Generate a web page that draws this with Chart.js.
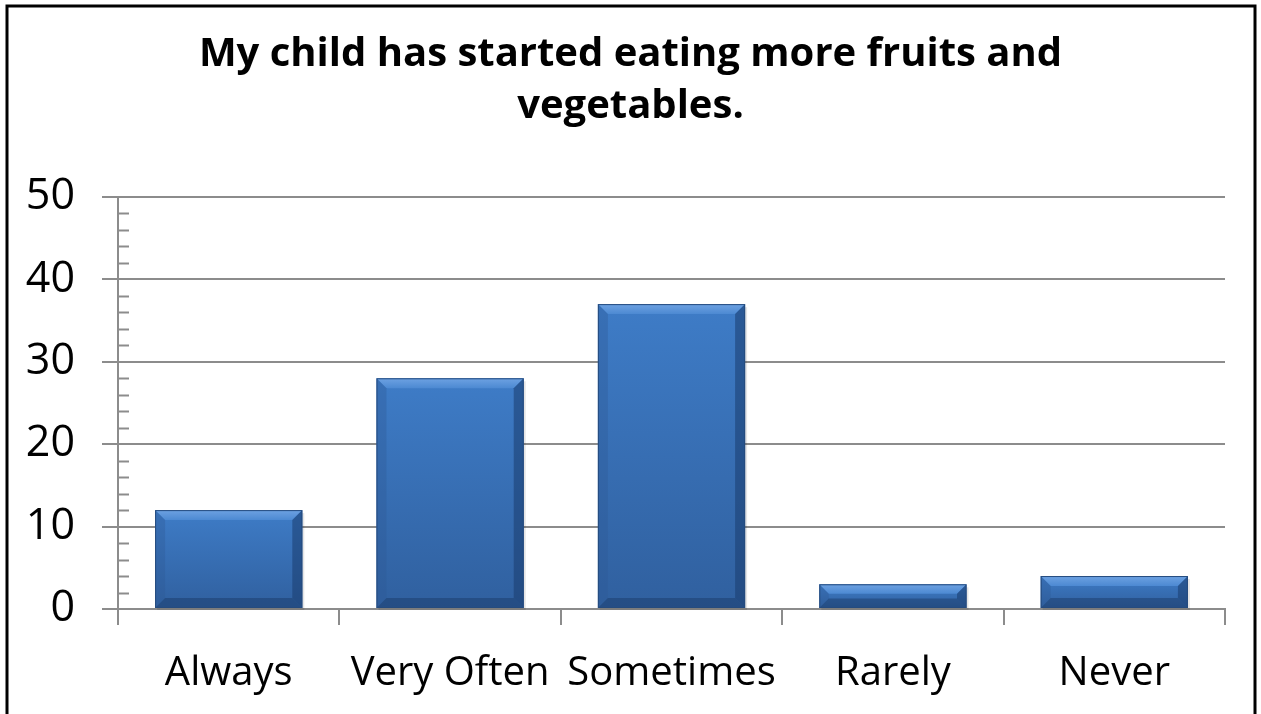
<!DOCTYPE html>
<html>
<head>
<meta charset="utf-8">
<script src="https://cdn.jsdelivr.net/npm/chart.js@4.4.0/dist/chart.umd.min.js"></script>
<style>
  html, body { margin: 0; padding: 0; background: #fff; }
  #wrap { width: 1261px; height: 714px; }
</style>
</head>
<body>
<div id="wrap"><canvas id="grafico" width="1261" height="714"></canvas></div>
<script>
// Datos del gráfico
const titulo = ['My child has started eating more fruits and', 'vegetables.'];
const categorias = ['Always', 'Very Often', 'Sometimes', 'Rarely', 'Never'];
const valores = [12, 28, 37, 3, 4];
const ejeY = { min: 0, max: 50, paso: 10, menor: 2 };

const FUENTE = '"Open Sans", sans-serif';
const GRIS = '#8c8c8c';

// Marco negro alrededor
const marco = {
  id: 'marco',
  beforeDraw(chart) {
    const c = chart.ctx;
    c.save();
    c.fillStyle = '#fff';
    c.fillRect(0, 0, chart.width, chart.height);
    c.strokeStyle = '#000';
    c.lineWidth = 3;
    c.strokeRect(7, 6, chart.width - 13, chart.height + 10);
    c.restore();
  }
};

// Título en dos líneas
const tituloPlugin = {
  id: 'tituloPlugin',
  afterDraw(chart) {
    const c = chart.ctx;
    c.save();
    c.font = 'bold 40px ' + FUENTE;
    c.fillStyle = '#000';
    c.textAlign = 'center';
    c.textBaseline = 'middle';
    titulo.forEach((linea, i) => c.fillText(linea, chart.width / 2, 55 + i * 52));
    c.restore();
  }
};

// Marcas menores del eje Y
const marcasMenores = {
  id: 'marcasMenores',
  afterDraw(chart) {
    const y = chart.scales.y;
    const c = chart.ctx;
    c.save();
    c.strokeStyle = GRIS;
    c.lineWidth = 2;
    for (let v = ejeY.min; v <= ejeY.max; v += ejeY.menor) {
      if (v % ejeY.paso === 0) continue;
      const py = Math.round(y.getPixelForValue(v)) + 0.5;
      c.beginPath();
      c.moveTo(y.right, py);
      c.lineTo(y.right + 11, py);
      c.stroke();
    }
    c.restore();
  }
};

// Barras con biselado
const bisel = {
  id: 'bisel',
  afterDatasetsDraw(chart) {
    const c = chart.ctx;
    const meta = chart.getDatasetMeta(0);
    meta.data.forEach(bar => {
      const x0 = bar.x - bar.width / 2, x1 = bar.x + bar.width / 2;
      const y0 = bar.y, y1 = bar.base;
      const h = y1 - y0;
      const b = Math.min(10, h / 2.5);
      c.save();
      // sombra
      c.fillStyle = 'rgba(0,0,0,0.10)';
      c.fillRect(x0 + 2, y0 + 3, x1 - x0, h - 1);
      // cuerpo
      const g = c.createLinearGradient(0, y0, 0, y1);
      g.addColorStop(0, '#3e7cc7');
      g.addColorStop(1, '#30609f');
      c.fillStyle = g;
      c.fillRect(x0, y0, x1 - x0, h);
      // arriba
      const gt = c.createLinearGradient(0, y0, 0, y0 + b);
      gt.addColorStop(0, '#6ea2e2');
      gt.addColorStop(1, '#4c89d2');
      c.fillStyle = gt;
      c.beginPath();
      c.moveTo(x0, y0); c.lineTo(x1, y0); c.lineTo(x1 - b, y0 + b); c.lineTo(x0 + b, y0 + b);
      c.closePath(); c.fill();
      // izquierda
      c.fillStyle = 'rgba(45,90,150,0.35)';
      c.beginPath();
      c.moveTo(x0, y0); c.lineTo(x0 + b, y0 + b); c.lineTo(x0 + b, y1 - b); c.lineTo(x0, y1);
      c.closePath(); c.fill();
      // derecha
      c.fillStyle = 'rgba(25,60,110,0.55)';
      c.beginPath();
      c.moveTo(x1, y0); c.lineTo(x1 - b, y0 + b); c.lineTo(x1 - b, y1 - b); c.lineTo(x1, y1);
      c.closePath(); c.fill();
      // abajo
      c.fillStyle = 'rgba(25,55,100,0.45)';
      c.beginPath();
      c.moveTo(x0, y1); c.lineTo(x0 + b, y1 - b); c.lineTo(x1 - b, y1 - b); c.lineTo(x1, y1);
      c.closePath(); c.fill();
      // contorno
      c.strokeStyle = '#254b7e';
      c.lineWidth = 1;
      c.strokeRect(x0 + 0.5, y0 + 0.5, x1 - x0 - 1, h - 1);
      c.restore();
    });
  }
};

const config = {
  type: 'bar',
  data: {
    labels: categorias,
    datasets: [{
      data: valores,
      backgroundColor: 'rgba(0,0,0,0)',
      borderWidth: 0,
      categoryPercentage: 0.665,
      barPercentage: 1
    }]
  },
  options: {
    responsive: false,
    animation: false,
    events: [],
    layout: { padding: { top: 197, right: 36, left: 0, bottom: 0 } },
    plugins: {
      legend: { display: false },
      title: { display: false },
      tooltip: { enabled: false }
    },
    scales: {
      x: {
        grid: { display: true, drawOnChartArea: false, drawTicks: true, tickLength: 16, color: GRIS, lineWidth: 2, offset: true },
        border: { display: true, color: GRIS, width: 2 },
        ticks: { color: '#000', font: { family: FUENTE, size: 40 }, padding: 25, maxRotation: 0, autoSkip: false },
        afterFit(scale) { scale.height = 105; }
      },
      y: {
        min: ejeY.min,
        max: ejeY.max,
        grid: { color: GRIS, lineWidth: 2, tickLength: 16 },
        border: { display: true, color: GRIS, width: 2 },
        ticks: { stepSize: ejeY.paso, color: '#000', font: { family: FUENTE, size: 43 }, padding: 27 },
        afterFit(scale) { scale.width = 118; }
      }
    }
  },
  plugins: [marco, tituloPlugin, marcasMenores, bisel]
};

const ctx = document.getElementById('grafico').getContext('2d');
const miGrafico = new Chart(ctx, config);
</script>
</body>
</html>
